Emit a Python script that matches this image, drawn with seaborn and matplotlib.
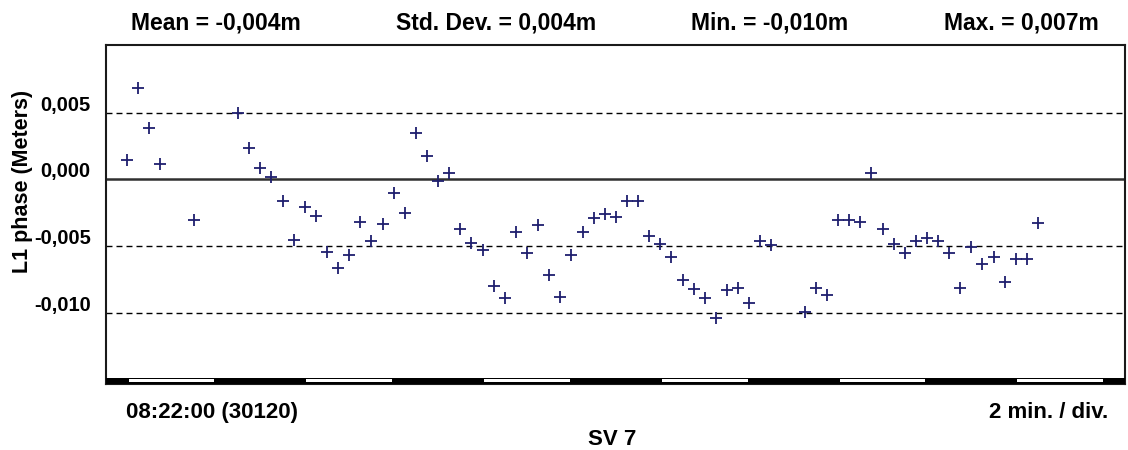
import matplotlib
matplotlib.use("Agg")
import matplotlib.pyplot as plt
import matplotlib.transforms as mtransforms
from matplotlib.patches import Rectangle
import pandas as pd
import seaborn as sns

# ---------------- data ----------------
sample_interval_s = 15
epoch_index = [0, 1, 2, 3, 6, 10, 11, 12, 13, 14, 15, 16, 17, 18, 19, 20, 21, 22,
               23, 24, 25, 26, 27, 28, 29, 30, 31, 32, 33, 34, 35, 36, 37, 38, 39,
               40, 41, 42, 43, 44, 45, 46, 47, 48, 49, 50, 51, 52, 53, 54, 55, 56,
               57, 58, 61, 62, 63, 64, 65, 66, 67, 68, 69, 70, 71, 72, 73, 74, 75,
               76, 77, 78, 79, 80, 81, 82]
phase_m = [0.00145, 0.00687, 0.00387, 0.00115, -0.00308, 0.00495, 0.00237, 0.00082,
           0.00020, -0.00160, -0.00455, -0.00205, -0.00275, -0.00543, -0.00668,
           -0.00568, -0.00323, -0.00463, -0.00335, -0.00105, -0.00250, 0.00345,
           0.00175, -0.00010, 0.00050, -0.00373, -0.00475, -0.00530, -0.00798,
           -0.00888, -0.00398, -0.00555, -0.00343, -0.00718, -0.00880, -0.00568,
           -0.00398, -0.00293, -0.00260, -0.00280, -0.00160, -0.00160, -0.00423,
           -0.00488, -0.00585, -0.00755, -0.00825, -0.00893, -0.01038, -0.00830,
           -0.00813, -0.00930, -0.00463, -0.00493, -0.00998, -0.00818, -0.00868,
           -0.00305, -0.00305, -0.00323, 0.00045, -0.00373, -0.00488, -0.00555,
           -0.00463, -0.00438, -0.00463, -0.00555, -0.00813, -0.00505, -0.00635,
           -0.00585, -0.00768, -0.00600, -0.00600, -0.00330]

ytick_values = [0.005, 0.000, -0.005, -0.010]
ytick_labels = ["0,005", "0,000", "-0,005", "-0,010"]
dashed_levels = [0.005, -0.005, -0.010]
solid_level = 0.0

stats_labels = ["Mean = -0,004m", "Std. Dev. = 0,004m", "Min. = -0,010m", "Max. = 0,007m"]
start_label = "08:22:00 (30120)"
scale_label = "2 min. / div."
sv_label = "SV 7"
ylabel = "L1 phase (Meters)"
division_s = 120

df = pd.DataFrame({"t": [i * sample_interval_s for i in epoch_index], "phase": phase_m})

# ---------------- figure ----------------
sns.set_style("white")
plt.rcParams["font.family"] = ["Liberation Sans", "DejaVu Sans"]
plt.rcParams["font.weight"] = "bold"
plt.rcParams["text.color"] = "black"
plt.rcParams["ytick.color"] = "black"
plt.rcParams["xtick.color"] = "black"

W, H = 1128, 450
fig = plt.figure(figsize=(W / 100, H / 100), dpi=100)
fig.patch.set_facecolor("white")
L, R, T, B = 106, 1125, 45, 384
ax = fig.add_axes([L / W, 1 - B / H, (R - L) / W, (B - T) / H])

marker_color = "#1f1f6e"
sns.scatterplot(data=df, x="t", y="phase", marker="+", s=80, color=marker_color,
                linewidth=1.3, ax=ax, zorder=5, legend=False)

ax.set_xlim(-28.4, 1347.4)
ax.set_ylim(-0.01536, 0.01007)

ax.axhline(solid_level, color="#303030", lw=1.8, zorder=2)
for lv in dashed_levels:
    ax.axhline(lv, color="black", lw=1.0, dashes=(4.3, 2.9), zorder=2)

ax.set_xticks([])
ax.set_yticks(ytick_values)
ax.set_yticklabels(ytick_labels, fontsize=14.5, fontweight="bold", color="black")
ax.tick_params(axis="y", length=0, pad=11)
off = mtransforms.ScaledTranslation(0, 2 / 100, fig.dpi_scale_trans)
for lab in ax.get_yticklabels():
    lab.set_va("baseline")
    lab.set_transform(lab.get_transform() + off)
ax.set_xlabel("")
ax.set_ylabel("")

for sp in ax.spines.values():
    sp.set_color("#1a1a1a")
    sp.set_linewidth(1.5)

# time-division bar along the bottom
bt = mtransforms.blended_transform_factory(ax.transData, ax.transAxes)
ax_h = B - T
x0, x1 = ax.get_xlim()
ax.add_patch(Rectangle((x0, 0), x1 - x0, 6.3 / ax_h, transform=bt,
                       facecolor="black", edgecolor="none", zorder=6, clip_on=True))
k = 0
while k * division_s < x1:
    if k % 2 == 0:
        ax.add_patch(Rectangle((k * division_s + 2, 1.7 / ax_h), division_s - 4,
                               3.6 / ax_h, transform=bt, facecolor="white",
                               edgecolor="none", zorder=7, clip_on=True))
    k += 1

# texts
centers = [215.5, 496.5, 769.5, 1021.7]
for c, s in zip(centers, stats_labels):
    fig.text(c / W, 1 - 29.3 / H, s, ha="center", va="baseline",
             fontsize=16.5, fontweight="bold", color="black")

fig.text(126.4 / W, 1 - 418 / H, start_label, ha="left", va="baseline",
         fontsize=16, fontweight="bold", color="black")
fig.text(1108.6 / W, 1 - 418 / H, scale_label, ha="right", va="baseline",
         fontsize=16, fontweight="bold", color="black")
fig.text(612.5 / W, 1 - 445 / H, sv_label, ha="center", va="baseline",
         fontsize=16, fontweight="bold", color="black")
fig.text(22.5 / W, 1 - 181.7 / H, ylabel, ha="center", va="center",
         rotation=90, fontsize=15.5, fontweight="bold", color="black")

fig.savefig("out.png", dpi=100, facecolor="white")
